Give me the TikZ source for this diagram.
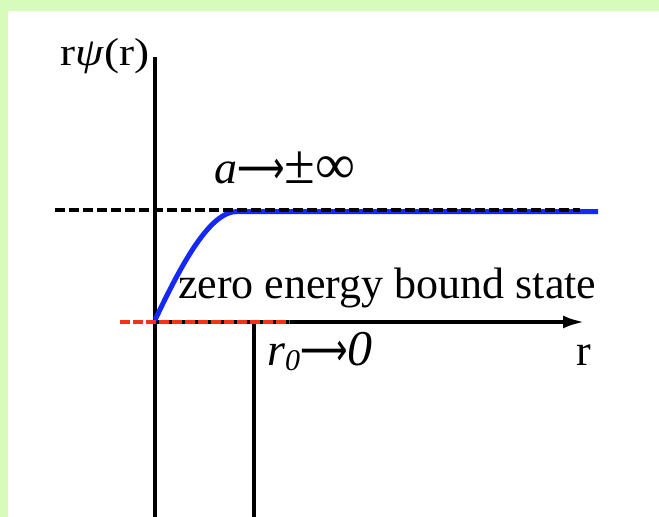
\documentclass[tikz,border=0pt]{standalone}
\usepackage{fontspec}
\setmainfont{Liberation Serif}
\newfontfamily\arrowfont{DejaVu Sans}
\usetikzlibrary{arrows.meta}
\definecolor{bordergreen}{RGB}{214,251,186}
\definecolor{curveblue}{RGB}{20,40,250}
\definecolor{dashred}{RGB}{245,50,20}
\newcommand{\bigarrow}{\scalebox{0.72}[1]{\arrowfont ⟶}}
\begin{document}
\begin{tikzpicture}[x=1pt,y=-1pt,
  lbl/.style={inner sep=0pt, anchor=base west},
  axisline/.style={line width=3.4pt},
  blackdash/.style={line width=3.4pt, dash pattern=on 10pt off 4pt},
  reddash/.style={dashred, line width=4.5pt, dash pattern=on 10pt off 3pt},
  bluecurve/.style={curveblue, line width=5pt}]
\useasboundingbox (0,0) rectangle (659,517);
\fill[bordergreen] (0,0) rectangle (659,517);
\fill[white] (8,11) rectangle (659,517);
% coordinates
\coordinate (yaxtop) at (155,57);
\coordinate (yaxbot) at (155,517);
\coordinate (r0top) at (254,322);
\coordinate (r0bot) at (254,517);
\coordinate (origin) at (155,322);
\coordinate (xaxend) at (584,322);
\coordinate (cstart) at (155,320);
\coordinate (cmid) at (237,211.5);
\coordinate (cend) at (598,211.5);
\coordinate (dstart) at (55,210);
\coordinate (dend) at (580,210);
\coordinate (rstart) at (120,322);
\coordinate (rend) at (290,322);
% axes
\draw[axisline] (yaxbot) -- (yaxtop);
\draw[axisline] (r0top) -- (r0bot);
\draw[axisline, -{Latex[length=21pt,width=13pt]}] (origin) -- (xaxend);
% curve
\draw[bluecurve] (cstart) .. controls (182,263) and (210,211.5) .. (cmid) -- (cend);
\draw[blackdash] (dstart) -- (dend);
\draw[reddash] (rstart) -- (rend);
% labels
\node[lbl, font=\fontsize{39}{46}\selectfont] (ylab) at (60,65) {\scalebox{1.16}[1]{r\textit{ψ}(r)}};
\node[lbl, font=\fontsize{46}{55}\selectfont] (alab) at (214,183) {\textit{a}\bigarrow{\fontsize{56}{60}\selectfont ±∞}};
\node[lbl, font=\fontsize{44}{52}\selectfont] (zlab) at (178,298) {zero energy bound state};
\node[lbl, font=\fontsize{46}{52}\selectfont] (r0lab) at (267,365) {\textit{r}\raisebox{-0.25ex}{\fontsize{30}{36}\selectfont\textit{0}}\bigarrow{\fontsize{50}{56}\selectfont\textit{0}}};
\node[lbl, font=\fontsize{44}{52}\selectfont] (rlab) at (576,365) {r};
\end{tikzpicture}
\end{document}
